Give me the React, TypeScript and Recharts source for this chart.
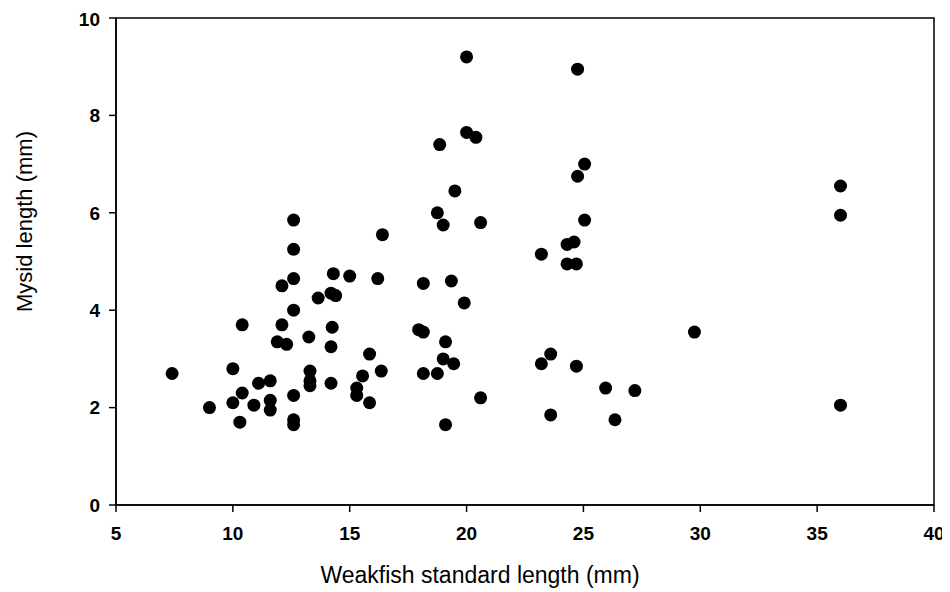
import React from 'react'
import {
  ScatterChart,
  Scatter,
  XAxis,
  YAxis,
  ReferenceArea,
} from 'recharts'

// weakfish standard length (mm) vs. mysid length (mm)
const fishLength = [
  7.4, 9.0, 10.0, 10.0, 10.3, 10.4, 10.4, 10.9, 11.1, 11.6, 11.6, 11.6,
  11.9, 12.3, 12.1, 12.1, 12.6, 12.6, 12.6, 12.6, 12.6, 12.6, 12.6, 13.25,
  13.3, 13.3, 13.3, 13.65, 14.3, 14.2, 14.4, 14.25, 14.2, 14.2, 15.0, 15.3,
  15.3, 15.55, 15.85, 15.85, 16.35, 16.2, 16.4, 17.95, 18.15, 18.15, 18.15,
  18.75, 18.75, 18.85, 19.0, 19.1, 19.0, 19.1, 19.35, 19.45, 19.5, 19.9,
  20.0, 20.0, 20.4, 20.6, 20.6, 23.2, 23.2, 23.6, 23.6, 24.3, 24.6, 24.3,
  24.7, 24.7, 24.75, 24.75, 25.05, 25.05, 25.95, 26.35, 27.2, 29.75, 36.0,
  36.0, 36.0,
]
const mysidLength = [
  2.7, 2.0, 2.8, 2.1, 1.7, 2.3, 3.7, 2.05, 2.5, 2.55, 2.15, 1.95,
  3.35, 3.3, 3.7, 4.5, 4.65, 4.0, 2.25, 1.75, 1.65, 5.85, 5.25, 3.45,
  2.75, 2.55, 2.45, 4.25, 4.75, 4.35, 4.3, 3.65, 3.25, 2.5, 4.7, 2.4,
  2.25, 2.65, 3.1, 2.1, 2.75, 4.65, 5.55, 3.6, 3.55, 4.55, 2.7,
  2.7, 6.0, 7.4, 5.75, 3.35, 3.0, 1.65, 4.6, 2.9, 6.45, 4.15,
  9.2, 7.65, 7.55, 5.8, 2.2, 5.15, 2.9, 3.1, 1.85, 5.35, 5.4, 4.95,
  4.95, 2.85, 8.95, 6.75, 7.0, 5.85, 2.4, 1.75, 2.35, 3.55, 6.55,
  5.95, 2.05,
]
const xTicks = [5, 10, 15, 20, 25, 30, 35, 40]
const yTicks = [0, 2, 4, 6, 8, 10]

const FONT = '"Liberation Sans", Arial, sans-serif'

const points = fishLength.map((x, i) => ({ x, y: mysidLength[i] }))

const Dot = (props: any) => <circle cx={props.cx} cy={props.cy} r={6.5} fill="#000" />

const YLabel = (props: any) => {
  const vb = props.viewBox
  const cx = 16
  const cy = vb.y + vb.height / 2 - 40
  return (
    <text
      x={cx}
      y={cy}
      transform={`rotate(-90 ${cx} ${cy})`}
      textAnchor="middle"
      dominantBaseline="central"
      fontFamily={FONT}
      fontSize={22}
      fill="#000"
    >
      Mysid length (mm)
    </text>
  )
}

export default function App() {
  const tickStyle = { fontSize: 19, fontFamily: FONT, fontWeight: 'bold', fill: '#000' }
  return (
    <ScatterChart
      width={942}
      height={584}
      margin={{ top: 10, right: 16, bottom: 7, left: 0 }}
    >
      <XAxis
        type="number"
        dataKey="x"
        domain={[5, 40]}
        ticks={xTicks}
        height={80}
        tickSize={7}
        tickMargin={15}
        fontSize={19}
        tick={tickStyle}
        axisLine={{ stroke: '#000', strokeWidth: 1.5 }}
        tickLine={{ stroke: '#000', strokeWidth: 1.5 }}
        label={{
          value: 'Weakfish standard length (mm)',
          position: 'insideBottom',
          offset: 2,
          dx: -45,
          fontSize: 23,
          fontWeight: 'normal',
          fontFamily: FONT,
          fill: '#000',
        }}
      />
      <YAxis
        type="number"
        dataKey="y"
        domain={[0, 10]}
        ticks={yTicks}
        width={108}
        tickSize={7}
        tickMargin={9}
        fontSize={19}
        tick={tickStyle}
        axisLine={{ stroke: '#000', strokeWidth: 1.5 }}
        tickLine={{ stroke: '#000', strokeWidth: 1.5 }}
        label={<YLabel />}
      />
      <ReferenceArea
        x1={5}
        x2={40}
        y1={0}
        y2={10}
        fill="none"
        stroke="#000"
        strokeWidth={1.5}
        ifOverflow="visible"
      />
      <Scatter data={points} shape={<Dot />} isAnimationActive={false} />
    </ScatterChart>
  )
}
